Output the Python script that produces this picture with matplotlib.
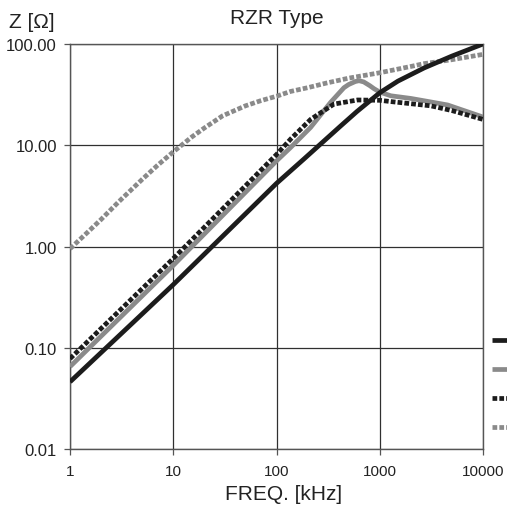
import matplotlib
matplotlib.use("Agg")
import matplotlib.pyplot as plt
from matplotlib.ticker import FixedLocator, FuncFormatter, NullLocator

plt.rcParams['font.family'] = ['Liberation Sans', 'DejaVu Sans']

# ---- data ----
sb_f = [1, 10, 100, 184, 418, 600, 1000, 1500, 2690, 5000, 10000]
sb_z = [0.046, 0.42, 4.2, 7.3, 15.5, 21.5, 33, 43, 58, 76, 100]

sg_f = [1, 10, 100, 137, 214, 334, 450, 500, 580, 630, 700, 800, 880, 1000, 1280, 2000, 2690, 4540, 10000]
sg_z = [0.065, 0.65, 7.0, 9.5, 15, 26.5, 37, 39.8, 42.6, 43.4, 42.2, 38.8, 36.2, 33.5, 30.8, 29, 27.5, 25, 19]

db_f = [1, 10, 100, 137, 214, 360, 610, 1000, 1280, 3130, 5000, 10000]
db_z = [0.078, 0.76, 8.1, 11.5, 18, 25.5, 28, 27.8, 27, 24.5, 22, 18]

dg_f = [1, 1.5, 2, 3, 5, 7, 10, 15, 20, 30, 50, 70, 100, 137, 200, 300, 500,
        1000, 2000, 2690, 5000, 10000]
dg_z = [0.95, 1.4, 1.85, 2.8, 4.6, 6.3, 8.6, 12, 14.8, 19.5, 24.5, 27.5, 30.5,
        34, 37, 41, 46, 52, 60, 64, 70, 79]

x_ticks = [1, 10, 100, 1000, 10000]
x_labels = ['1', '10', '100', '1000', '10000']
y_ticks = [0.01, 0.1, 1, 10, 100]

title = 'RZR Type'
ylabel = 'Z [Ω]'
xlabel = 'FREQ. [kHz]'

BLACK = '#1c1c1c'
GRAY = '#8a8a8a'
GRID = '#303030'

fig = plt.figure(figsize=(5.07, 5.10), dpi=100)
ax = fig.add_axes([70 / 507, 60 / 510, 413 / 507, 405 / 510])
ax.set_xscale('log')
ax.set_yscale('log')
ax.set_xlim(1, 10000)
ax.set_ylim(0.01, 100)

lw = 3.4
dash = (1.0, 0.45)
l1, = ax.plot(sb_f, sb_z, color=BLACK, lw=lw, solid_capstyle='butt', solid_joinstyle='round', zorder=4)
l2, = ax.plot(sg_f, sg_z, color=GRAY, lw=lw, solid_capstyle='butt', solid_joinstyle='round', zorder=3)
l3, = ax.plot(db_f, db_z, color=BLACK, lw=lw, dashes=dash, dash_capstyle='butt', zorder=4)
l4, = ax.plot(dg_f, dg_z, color=GRAY, lw=lw, dashes=dash, dash_capstyle='butt', zorder=3)

ax.xaxis.set_major_locator(FixedLocator(x_ticks))
ax.xaxis.set_minor_locator(NullLocator())
ax.set_xticklabels(x_labels)
ax.yaxis.set_major_locator(FixedLocator(y_ticks))
ax.yaxis.set_minor_locator(NullLocator())
ax.yaxis.set_major_formatter(FuncFormatter(lambda v, p: f'{v:.2f}'))

ax.grid(True, which='major', color=GRID, lw=0.9)
ax.set_axisbelow(True)
for s in ax.spines.values():
    s.set_color('#555555')
    s.set_linewidth(1.0)
ax.tick_params(axis='x', direction='out', length=4.5, width=0.9, color='#555555',
               labelsize=11, pad=6, labelcolor='#222222')
ax.tick_params(axis='y', direction='out', length=4.5, width=0.9, color='#555555',
               labelsize=12, pad=5, labelcolor='#222222')

ax.set_title(title, fontsize=15, pad=15, color='#222222')
ax.set_xlabel(xlabel, fontsize=15, color='#222222')
ax.xaxis.set_label_coords((283.5 - 70) / 413, -0.086)
ax.xaxis.label.set_va('top')
fig.text(9 / 507, 1 - 28 / 510, ylabel, fontsize=15, va='baseline', ha='left', color='#222222')

leg = fig.legend([l1, l2, l3, l4], [' ', ' ', ' ', ' '], loc='upper left',
                 bbox_to_anchor=(492 / 507, 1 - 335 / 510), bbox_transform=fig.transFigure,
                 frameon=False, borderpad=0, borderaxespad=0, handlelength=2.5,
                 fontsize=10, labelspacing=1.08, handletextpad=0.5)

fig.savefig('out.png', dpi=100)
